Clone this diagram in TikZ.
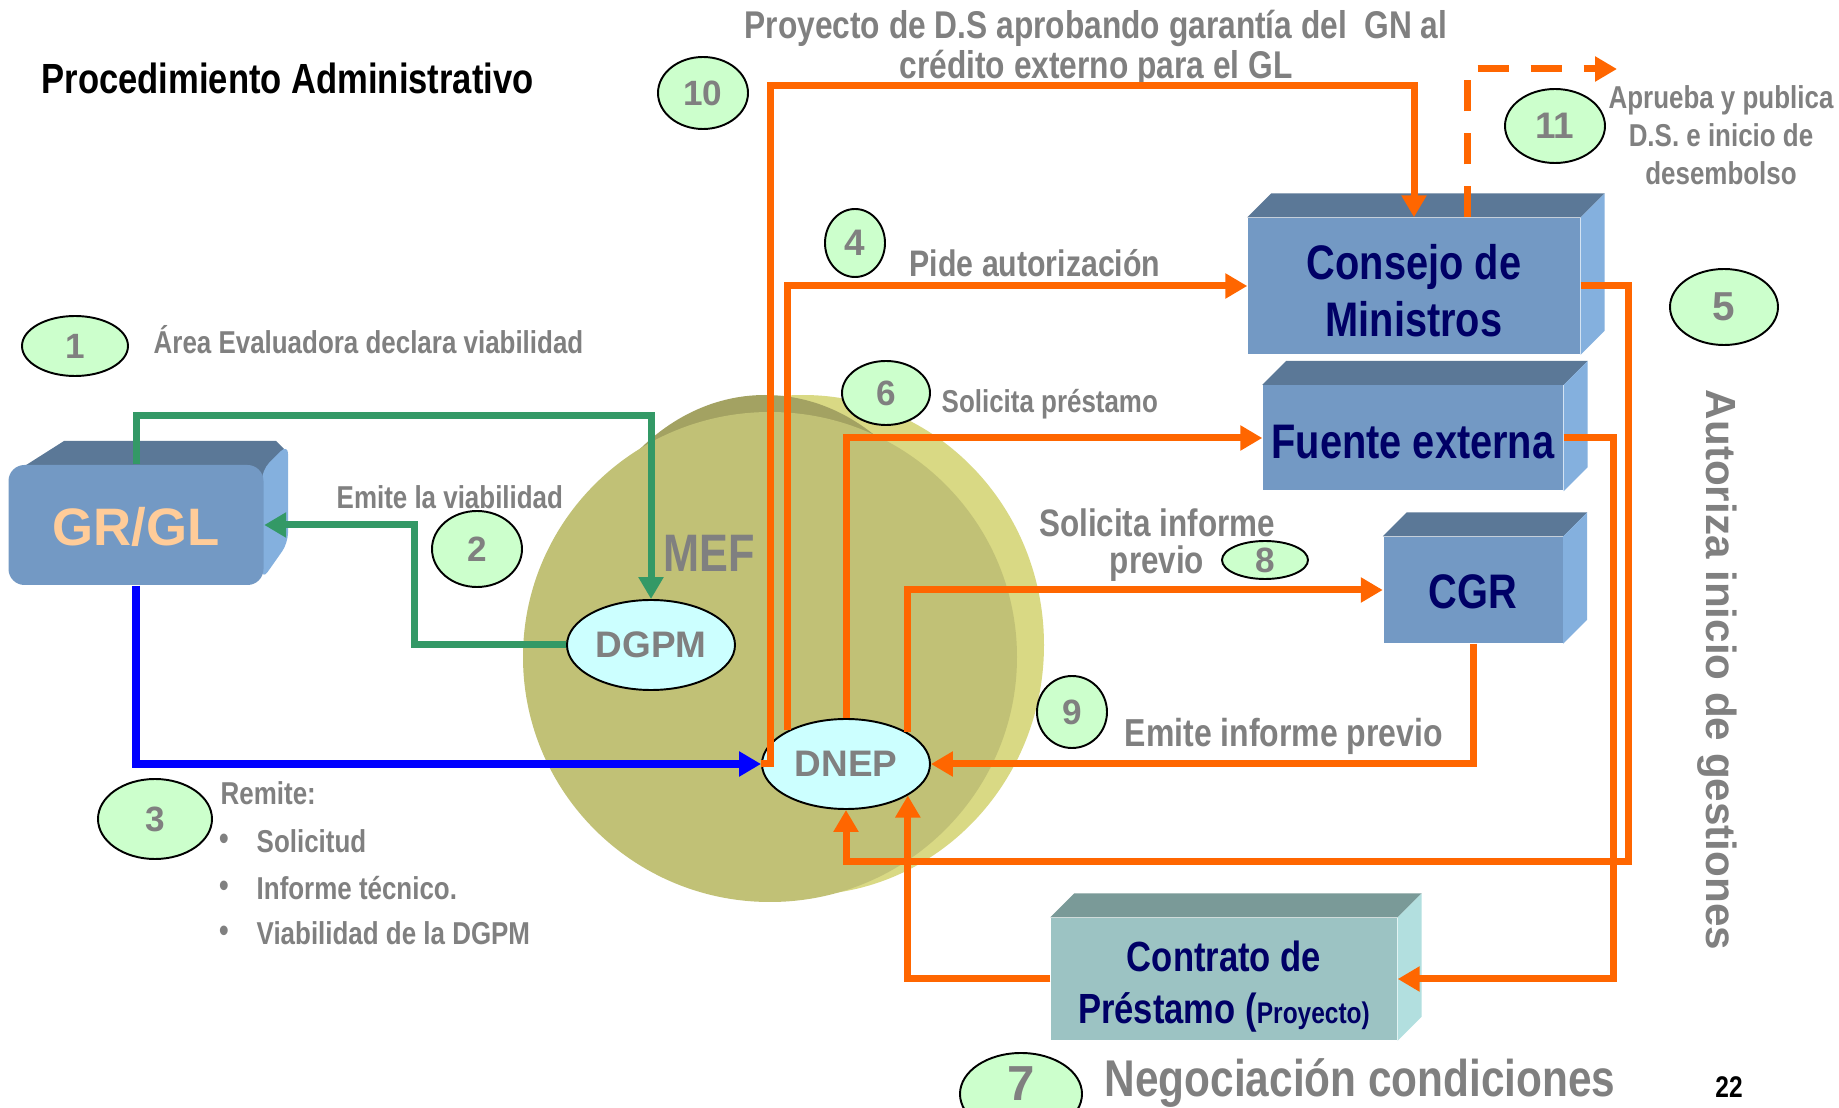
\documentclass[tikz,border=0pt]{standalone}
\usepackage{fontspec}
\setmainfont{Liberation Sans}[FakeStretch=0.82]
\newfontfamily\widesans{Liberation Sans}
\usetikzlibrary{arrows.meta,shapes.geometric,calc}

\definecolor{orng}{HTML}{FF6600}
\definecolor{grn}{HTML}{339966}
\definecolor{txtgray}{HTML}{808080}
\definecolor{navy}{HTML}{000066}
\definecolor{peach}{HTML}{FFCC99}
\definecolor{boxfront}{HTML}{7399C4}
\definecolor{boxtop}{HTML}{5B7897}
\definecolor{boxside}{HTML}{84B0DE}
\definecolor{ctrfront}{HTML}{9CC3C3}
\definecolor{ctrtop}{HTML}{7A9A98}
\definecolor{ctrside}{HTML}{B2DFDF}
\definecolor{numfill}{HTML}{CCFFCC}
\definecolor{ovalfill}{HTML}{CCFFFF}
\definecolor{mefmain}{HTML}{C1C176}
\definecolor{meflight}{HTML}{D9D984}
\definecolor{mefrim}{HTML}{A3A262}

\begin{document}
\begin{tikzpicture}[x=0.1mm, y=-0.1mm,
	lbl/.style={text=txtgray, inner sep=0pt, font=\bfseries\fontsize{9}{11}\selectfont},
	lblbig/.style={lbl, font=\bfseries\fontsize{10.5}{12.6}\selectfont},
	num/.style={ellipse, draw=black, line width=0.55pt, fill=numfill, inner sep=0pt, text=txtgray},
	oval/.style={ellipse, draw=black, line width=0.55pt, fill=ovalfill, inner sep=0pt, minimum width=16.8mm, minimum height=9mm, text=txtgray, font=\widesans\bfseries\fontsize{10.5}{12}\selectfont},
	cube/.style={fill=boxfront, inner sep=0pt},
	boxtxt/.style={text=navy, inner sep=0pt, align=center, font=\bfseries\fontsize{13.8}{16.2}\selectfont},
	flow/.style={line width=0.7mm, -{Triangle[length=2.2mm,width=2.4mm]}}]

\fill[white] (0,0) rectangle (1839,1108);
\useasboundingbox (0,0) rectangle (1839,1108);

\fill[meflight] (803,645) ellipse [x radius=24.1mm, y radius=25mm];
\fill[mefrim] (765,641) ellipse [x radius=20mm, y radius=24.6mm];
\fill[mefmain] (770,657) ellipse [x radius=24.7mm, y radius=24.5mm];
\node[lbl, font=\bfseries\fontsize{15}{18}\selectfont, anchor=base west] (mef) at (663,572) {MEF};

\node[oval] (dgpm) at (651,645) {DGPM};
\node[oval] (dnep) at (846,764) {DNEP};

\fill[boxtop] (12,474) -- (64,441) -- (276,441) -- (288,453) -- (264,477) -- cycle;
\fill[boxside, rounded corners=1mm] (262,470) -- (288,444) -- (288,543) -- (262,580) -- cycle;
\node[cube, rounded corners=1.6mm, minimum width=25.5mm, minimum height=12mm] (grgl) at (136,525) {};
\node[boxtxt, text=peach, font=\widesans\bfseries\fontsize{15}{18}\selectfont] (grgltxt) at ($(grgl)+(0,2)$) {GR/GL};

\node[cube, minimum width=33.2mm, minimum height=13.6mm] (consejo) at (1414,286) {};
\node[cube, minimum width=30mm, minimum height=10.5mm] (fuente) at (1413,438) {};
\node[cube, minimum width=17.9mm, minimum height=10.6mm] (cgr) at (1473,590) {};
\node[cube, fill=ctrfront, minimum width=34.6mm, minimum height=12.2mm] (contrato) at (1224,979) {};

\foreach \b/\t/\s in {consejo/boxtop/boxside, fuente/boxtop/boxside, cgr/boxtop/boxside, contrato/ctrtop/ctrside}{
	\fill[\t] (\b.north west) -- ++(24,-24) -- ($(\b.north east)+(24,-24)$) -- (\b.north east) -- cycle;
	\fill[\s] (\b.north east) -- ++(24,-24) -- ($(\b.south east)+(24,-24)$) -- (\b.south east) -- cycle;
}

\node[boxtxt] (consejotxt) at ($(consejo)+(0,5)$) {Consejo de\\Ministros};
\node[boxtxt] (fuentetxt) at ($(fuente)+(0,4)$) {Fuente externa};
\node[boxtxt] (cgrtxt) at ($(cgr)+(0,2)$) {CGR};
\node[boxtxt, font=\bfseries\fontsize{12}{14.8}\selectfont] (contratotxt) at ($(contrato)+(0,8)$) {Contrato de\\Préstamo ({\fontsize{8.5}{10}\selectfont Proyecto)}};

\foreach \n/\x/\y/\w/\h/\s in {1/75/346/106/60/10, 2/477/549/90/76/10, 3/155/819/114/80/10, 4/855/243/60/68/10.5, 5/1724/307/108/76/11.5, 6/886/393/88/64/10, 8/1265/560/86/38/10, 9/1072/712/70/72/10, 10/703/93/90/72/10, 11/1555/126/100/74/10.5}
	\node[num, minimum width=\w*0.1mm, minimum height=\h*0.1mm, font=\widesans\bfseries\fontsize{\s}{\s}\selectfont] (n\n) at (\x,\y) {\n};
\node[num, minimum width=12.2mm, minimum height=8.2mm, text depth=2mm, font=\widesans\bfseries\fontsize{14}{14}\selectfont] (n7) at (1021,1094) {7};

\node[lbl, text=black, font=\bfseries\fontsize{12}{14}\selectfont, anchor=base west] (title) at (41,94) {Procedimiento Administrativo};
\node[lbl, anchor=base west] (lblarea) at (153,354) {Área Evaluadora declara viabilidad};
\node[lbl, anchor=base west] (lblviab) at (336,509) {Emite la viabilidad};
\node[lbl, anchor=base west] (lblremite) at (220,805) {Remite:};
\foreach \t [count=\i] in {Solicitud, Informe técnico., Viabilidad de la DGPM}{
	\node[lbl, anchor=base west] (item\i) at (256,807+46*\i) {\t};
	\node[lbl, anchor=base, font=\fontsize{10}{10}\selectfont] (bul\i) at (224,805+46*\i) {\textbullet};
}
\node[lbl, font=\bfseries\fontsize{11}{13}\selectfont, anchor=base] (lblproy) at (1096,39) {Proyecto de D.S aprobando garantía del~ GN al};
\node[lbl, font=\bfseries\fontsize{11}{13}\selectfont, anchor=base] (lblcredito) at (1096,79) {crédito externo para el GL};
\node[lblbig, anchor=base west] (lblpide) at (909,277) {Pide autorización};
\node[lbl, anchor=base west] (lblsolpres) at (941,413) {Solicita préstamo};
\node[lblbig, font=\bfseries\fontsize{10.9}{13}\selectfont, anchor=base] (lblsolinf) at (1157,537) {Solicita informe};
\node[lblbig, font=\bfseries\fontsize{10.9}{13}\selectfont, anchor=base] (lblprevio) at (1157,574) {previo};
\node[lblbig, font=\bfseries\fontsize{11.1}{13}\selectfont, anchor=base west] (lblemiteinf) at (1124,747) {Emite informe previo};
\node[lbl, font=\bfseries\fontsize{9}{10}\selectfont, anchor=base] (lblaprueba) at (1721,109) {Aprueba y publica};
\node[lbl, font=\bfseries\fontsize{9}{10}\selectfont, anchor=base] (lblds) at (1721,147) {D.S. e inicio de};
\node[lbl, font=\bfseries\fontsize{9}{10}\selectfont, anchor=base] (lbldesemb) at (1721,185) {desembolso};
\node[lbl, font=\widesans\bfseries\fontsize{12}{14}\selectfont, rotate=-90] (lblautoriza) at (1717,670) {Autoriza inicio de gestiones};
\node[lbl, font=\bfseries\fontsize{14.7}{17}\selectfont, anchor=base west] (lblnego) at (1104,1096) {Negociación condiciones};
\node[lbl, text=black, font=\bfseries\fontsize{8.5}{10}\selectfont, anchor=base] (lblpagina) at (1729,1098) {22};

\coordinate (top10) at (770,86);
\coordinate (r5) at (1628,862);
\coordinate (r7) at (1613,979);
\coordinate (pub) at (1617,69);

\draw[flow, grn] (grgl.north) -- ++(0,-49) -| (dgpm.north);
\draw[flow, grn] (dgpm.west) -- ++(-152,0) |- (grgl.east);
\draw[flow, blue, line width=0.8mm] (grgl.south) |- (dnep.west);

\draw[flow, orng] (dnep.west) -| (top10) -| (consejo.north);
\draw[flow, orng] (dnep.150) |- (consejo.west);
\draw[flow, orng] (dnep.north) |- (fuente.west);
\draw[flow, orng] (dnep.27) |- (cgr.west);
\draw[flow, orng] (cgr.south) |- (dnep.east);
\draw[flow, orng] (consejo.east) -| (r5) -| (dnep.south);
\draw[flow, orng] (fuente.east) -| (r7) -- (contrato.east);
\draw[flow, orng] (contrato.west) -| (dnep.-27);
\draw[flow, orng, dash pattern=on 3.1mm off 2.2mm] ([xshift=5.3mm]consejo.north) |- (pub);

\end{tikzpicture}
\end{document}
